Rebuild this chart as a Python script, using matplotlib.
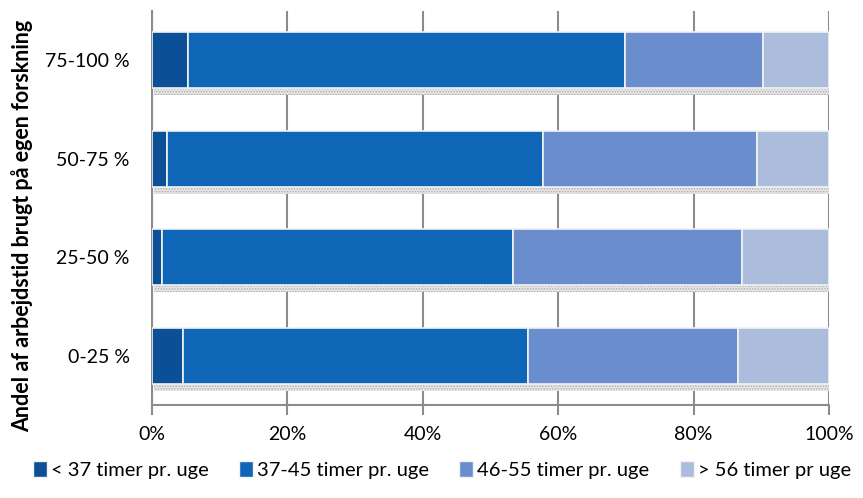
import matplotlib
matplotlib.use("Agg")
import matplotlib.pyplot as plt
from matplotlib.patches import Patch
import numpy as np

plt.rcParams['font.family'] = ['Lato', 'DejaVu Sans']
plt.rcParams['hatch.linewidth'] = 0.6

categories = ["0-25 %", "25-50 %", "50-75 %", "75-100 %"]
series_names = ["< 37 timer pr. uge", "37-45 timer pr. uge",
                "46-55 timer pr. uge", "> 56 timer pr uge"]
under_37 = [4.6, 1.5, 2.2, 5.3]
h37_45 = [50.9, 51.8, 55.6, 64.6]
h46_55 = [31.1, 33.8, 31.6, 20.4]
over_56 = [13.4, 12.9, 10.6, 9.7]
xticks = [0, 20, 40, 60, 80, 100]
xtick_labels = ["0%", "20%", "40%", "60%", "80%", "100%"]

colors = ["#0B5097", "#0F66B7", "#6A8ECD", "#ACBCDD"]

fig = plt.figure(figsize=(8.63, 4.98), dpi=100)
ax = fig.add_axes([152 / 863, 1 - 405 / 498, 677 / 863, 394 / 498])

y = np.arange(len(categories))
bar_h = 0.57
data = [under_37, h37_45, h46_55, over_56]

# soft dotted drop shadow under each stacked bar
totals = np.sum(data, axis=0)
ax.barh(y - bar_h / 2 - 0.035, totals, height=0.07, left=0.3,
        color="#e4e4e4", edgecolor="#a9a9a9", linewidth=0, hatch="......",
        zorder=2)

left = np.zeros(len(categories))
for vals, col, name in zip(data, colors, series_names):
    ax.barh(y, vals, height=bar_h, left=left, color=col,
            edgecolor="#f2f2f2", linewidth=1.2, zorder=3, label=name)
    left += np.array(vals)

ax.set_xlim(0, 100)
ax.set_ylim(-0.5, 3.5)
ax.set_xticks(xticks)
ax.set_xticklabels(xtick_labels, fontsize=14)
ax.set_yticks(y)
ax.set_yticklabels(categories, fontsize=14)
ax.grid(axis="x", color="#8c8c8c", linewidth=1.5, zorder=1)
ax.set_axisbelow(True)

for s in ["top", "right"]:
    ax.spines[s].set_visible(False)
for s in ["left", "bottom"]:
    ax.spines[s].set_color("#8c8c8c")
    ax.spines[s].set_linewidth(1.5)
ax.tick_params(axis="x", direction="out", length=7, width=1.5, color="#8c8c8c", pad=8)
ax.tick_params(axis="y", length=0, pad=16)

fig.text(22 / 863, 1 - 226 / 498, "Andel af arbejdstid brugt på egen forskning",
         rotation=90, ha="center", va="center", fontsize=15.5, fontweight="bold")

handles = [Patch(facecolor=c, edgecolor="#f2f2f2") for c in colors]
fig.legend(handles, series_names, loc="center", bbox_to_anchor=(442 / 863, 1 - 470 / 498),
           ncol=4, frameon=False, fontsize=14.5, handlelength=0.7, handleheight=0.8,
           handletextpad=0.2, columnspacing=1.5)

fig.savefig("out.png", dpi=100)
